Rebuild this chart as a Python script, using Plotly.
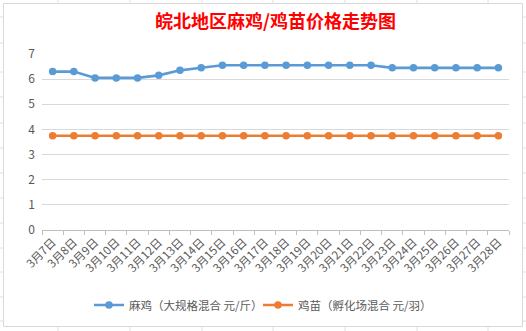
import plotly.graph_objects as go

dates = [f"3月{d}日" for d in range(7, 29)]
maji = [6.3, 6.3, 6.05, 6.05, 6.05, 6.15, 6.35, 6.45,
        6.55, 6.55, 6.55, 6.55, 6.55, 6.55, 6.55, 6.55,
        6.45, 6.45, 6.45, 6.45, 6.45, 6.45]
jimiao = [3.75] * 22
name1 = "麻鸡（大规格混合 元/斤）"
name2 = "鸡苗（孵化场混合 元/羽）"
title = "皖北地区麻鸡/鸡苗价格走势图"

W, H = 526, 331
L, R, T, B = 42, 17, 54, 101
PW, PH = W - L - R, H - T - B

def px(x):
    return (x - L) / PW

def py(y):
    return (H - B - y) / PH

FONT = "Noto Sans CJK SC, Microsoft YaHei, sans-serif"
GRAY = "#595959"

fig = go.Figure()
fig.add_trace(go.Scatter(x=dates, y=maji, name=name1, mode="lines+markers",
                         line=dict(color="#5B9BD5", width=2.6),
                         marker=dict(size=7.5, color="#5B9BD5")))
fig.add_trace(go.Scatter(x=dates, y=jimiao, name=name2, mode="lines+markers",
                         line=dict(color="#ED7D31", width=2.6),
                         marker=dict(size=7.5, color="#ED7D31")))

shapes = []
# chart frame
shapes.append(dict(type="rect", xref="paper", yref="paper",
                   x0=px(3.5), x1=px(522.5), y0=py(326.5), y1=py(3.5),
                   line=dict(color="#D9D9D9", width=1), layer="below"))
# spreadsheet grid hints outside the frame
for ry in [17, 43, 72, 97, 123, 148, 173, 198, 223, 248, 272, 297, 321]:
    for a, b in [(0, 3), (523, 526)]:
        shapes.append(dict(type="line", xref="paper", yref="paper",
                           x0=px(a), x1=px(b), y0=py(ry), y1=py(ry),
                           line=dict(color="#E0E0E0", width=1)))
for cx in [58, 130, 202, 273, 345, 417, 488]:
    for a, b in [(0, 3), (327, 331)]:
        shapes.append(dict(type="line", xref="paper", yref="paper",
                           x0=px(cx), x1=px(cx), y0=py(a), y1=py(b),
                           line=dict(color="#E0E0E0", width=1)))

fig.update_layout(
    width=W, height=H,
    margin=dict(l=L, r=R, t=T, b=B),
    paper_bgcolor="white", plot_bgcolor="rgba(0,0,0,0)",
    font=dict(family=FONT, color=GRAY, size=11),
    title=dict(text=title, x=0.5, xref="paper", xanchor="center",
               y=1 - 22 / H, yref="container", yanchor="middle",
               font=dict(family=FONT, size=18, color="#FF0000", weight="bold")),
    showlegend=True,
    legend=dict(orientation="h", x=px(258), xanchor="center", y=py(305), yanchor="middle",
                font=dict(family=FONT, size=11.5, color=GRAY),
                itemwidth=30, entrywidth=124, entrywidthmode="pixels",
                tracegroupgap=0, bgcolor="rgba(0,0,0,0)"),
    xaxis=dict(type="category", tickangle=-45, showgrid=False,
               range=[-0.5, len(dates) - 0.5],
               showline=True, linecolor="#BFBFBF", linewidth=1,
               ticks="outside", tickson="boundaries", ticklen=4, tickcolor="#BFBFBF",
               tickfont=dict(family=FONT, size=11.5, color=GRAY), automargin=False),
    yaxis=dict(range=[0, 7], dtick=1, showgrid=True, gridcolor="#D9D9D9", gridwidth=1,
               zeroline=False, showline=False, ticks="",
               ticklabelstandoff=6,
               tickfont=dict(family=FONT, size=12, color=GRAY), automargin=False),
    shapes=shapes,
)

fig.write_html("out.html")
